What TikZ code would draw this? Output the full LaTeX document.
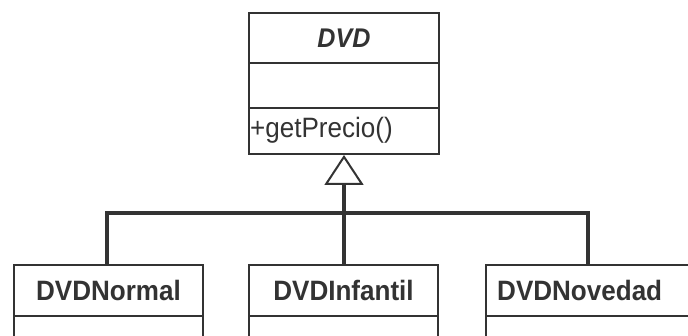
\documentclass[tikz,border=0pt]{standalone}
\usepackage{fontspec}
\setmainfont{Liberation Sans}
\newfontfamily\condsans[FakeStretch=0.93]{Liberation Sans}
\usetikzlibrary{arrows.meta}
\definecolor{ink}{HTML}{333333}
\tikzset{
  comp/.style={draw=ink, line width=2pt, rectangle, inner sep=0pt, anchor=north west, text=ink},
  link/.style={draw=ink, line width=3.2pt},
  bigtxt/.style={font=\condsans\fontsize{28}{32}\selectfont},
  boldtxt/.style={font=\condsans\fontsize{28}{32}\selectfont\bfseries}
}
\begin{document}
\begin{tikzpicture}[x=1pt,y=-1pt]
\useasboundingbox (0,0) rectangle (688,336);
\clip (0,0) rectangle (688,336);
\fill[white] (0,0) rectangle (688,336);
% DVD class
\node[comp, minimum width=190pt, minimum height=50pt, font=\condsans\fontsize{27}{32}\selectfont\bfseries\itshape] (dvd) at (248,12) {DVD};
\node[comp, minimum width=190pt, minimum height=45pt] (dvda) at (248,62) {};
\node[comp, minimum width=190pt, minimum height=46pt] (dvdm) at (248,107) {};
\node[anchor=west, inner sep=0pt, text=ink, bigtxt] (dvdmt) at (250,130) {+getPrecio()};
% subclasses
\node[comp, minimum width=189pt, minimum height=51pt, boldtxt] (normal) at (13,264) {DVDNormal};
\node[comp, minimum width=189pt, minimum height=30pt] (normala) at (13,315) {};
\node[comp, minimum width=189pt, minimum height=51pt, boldtxt] (infantil) at (248,264) {DVDInfantil};
\node[comp, minimum width=189pt, minimum height=30pt] (infantila) at (248,315) {};
\node[comp, minimum width=215pt, minimum height=51pt] (novedad) at (485,264) {};
\node[anchor=west, inner sep=0pt, text=ink, boldtxt] (novedadt) at (497,290) {DVDNovedad};
\node[comp, minimum width=215pt, minimum height=30pt] (novedada) at (485,315) {};
% connectors
\coordinate (bus) at (343,213);
\coordinate (nov) at (588,264);
\draw[link, -{Triangle[open, length=30pt, width=39pt, line width=2pt]}] (infantil.north -| dvdm.south) -- (dvdm.south);
\draw[link] (normal.north -| 107,0) |- (bus) -| (nov);
\end{tikzpicture}
\end{document}
